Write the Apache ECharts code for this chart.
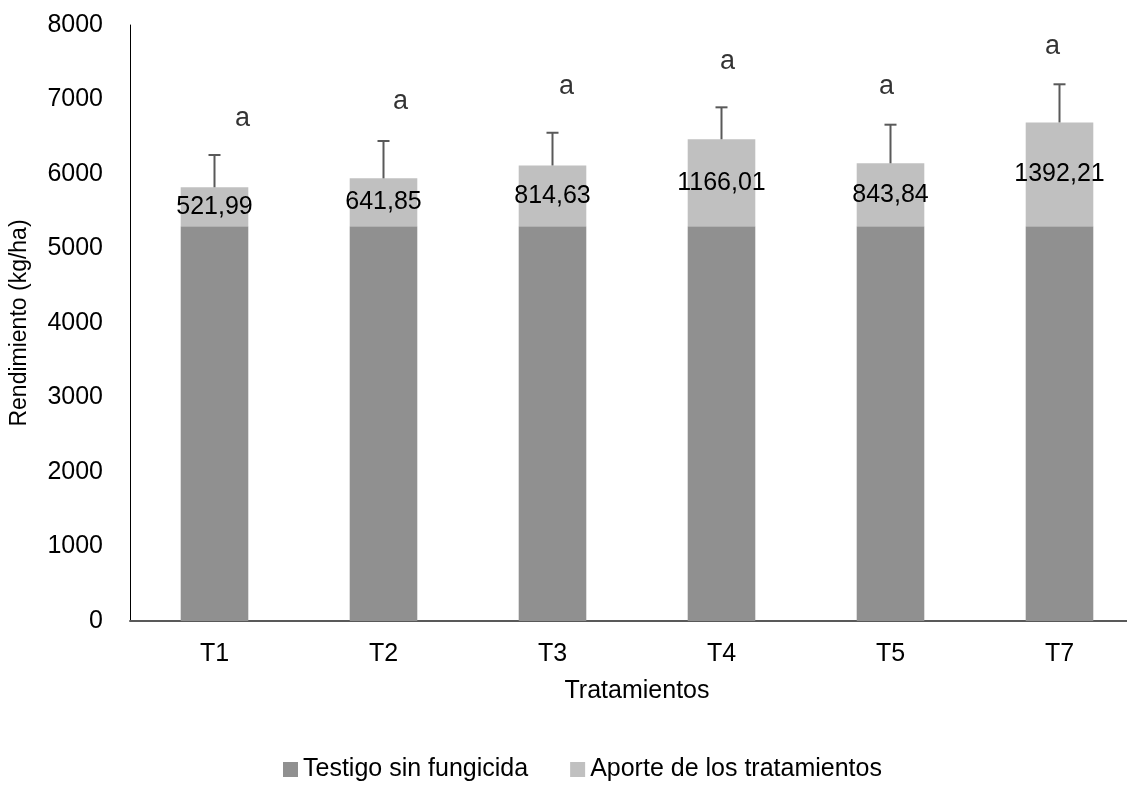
<!DOCTYPE html>
<html>
<head>
    <meta charset="utf-8">
    <title>Rendimiento</title>
    <script src="https://cdn.jsdelivr.net/npm/echarts@6/dist/echarts.min.js"></script>
    <style type="text/css">
        * { margin: 0; padding: 0; }
        body { background: #fff; }
    </style>
</head>
<body>
<div id="main" style="width: 1127px; height: 786px;"></div>
<script type="text/javascript">
    // datos
    var categories = ['T1', 'T2', 'T3', 'T4', 'T5', 'T7'];
    var testigo = [5300, 5300, 5300, 5300, 5300, 5300];
    var aporte = [521.99, 641.85, 814.63, 1166.01, 843.84, 1392.21];
    var errorUp = [433, 501, 439, 429, 518, 512];
    var letters = ['a', 'a', 'a', 'a', 'a', 'a'];
    var letterY = [6750, 6970, 7170, 7510, 7170, 7710];

    var FONT = '"Liberation Sans Narrow", "Liberation Sans", Arial, sans-serif';
    // desplazamiento horizontal de las letras (cuadros de texto de Excel)
    var letterShift = [28, 17, 14, 6, -4, -7];

    var myChart = echarts.init(document.getElementById('main'));

    var errData = categories.map(function (c, i) {
        var total = testigo[i] + aporte[i];
        return [i, total, total + errorUp[i]];
    });

    var letterData = categories.map(function (c, i) {
        return {
            value: [i, letterY[i]],
            label: { offset: [letterShift[i], 0] }
        };
    });

    var option = {
        animation: false,
        textStyle: { fontFamily: FONT },
        grid: {
            left: 130, right: -17, top: 25, bottom: 165,
            containLabel: false,
            outerBoundsMode: 'none'
        },
        legend: {
            data: ['Testigo sin fungicida', 'Aporte de los tratamientos'],
            left: 278,
            top: 752,
            itemWidth: 15,
            itemHeight: 15,
            itemGap: 42,
            icon: 'rect',
            textStyle: { fontFamily: FONT, fontSize: 25, color: '#000' }
        },
        xAxis: {
            type: 'category',
            data: categories,
            name: 'Tratamientos',
            nameLocation: 'middle',
            nameGap: 58,
            nameTextStyle: { fontFamily: FONT, fontSize: 25, color: '#000' },
            axisLine: { lineStyle: { color: '#595959', width: 2 } },
            axisTick: { show: false },
            axisLabel: { fontFamily: FONT, fontSize: 25, color: '#000', margin: 21 }
        },
        yAxis: {
            type: 'value',
            min: 0,
            max: 8000,
            interval: 1000,
            name: 'Rendimiento (kg/ha)',
            nameLocation: 'middle',
            nameGap: 99,
            nameTextStyle: { fontFamily: FONT, fontSize: 23, color: '#000' },
            axisLine: { show: true, lineStyle: { color: '#000', width: 1 } },
            axisTick: { show: false },
            splitLine: { show: false },
            axisLabel: {
                fontFamily: FONT, fontSize: 25, color: '#000', margin: 27,
                formatter: function (v) { return String(v); }
            }
        },
        series: [
            {
                name: 'Testigo sin fungicida',
                type: 'bar',
                stack: 'total',
                barWidth: '40%',
                itemStyle: { color: '#909090' },
                data: testigo
            },
            {
                name: 'Aporte de los tratamientos',
                type: 'bar',
                stack: 'total',
                barWidth: '40%',
                itemStyle: { color: '#c0c0c0' },
                label: {
                    show: true,
                    position: 'inside',
                    fontFamily: FONT,
                    fontSize: 25,
                    color: '#000',
                    formatter: function (p) {
                        return p.value.toFixed(2).replace('.', ',');
                    }
                },
                data: aporte
            },
            {
                name: 'error',
                type: 'custom',
                z: 5,
                renderItem: function (params, api) {
                    var x = api.value(0);
                    var lo = api.coord([x, api.value(1)]);
                    var hi = api.coord([x, api.value(2)]);
                    var st = { stroke: '#595959', lineWidth: 2 };
                    return {
                        type: 'group',
                        children: [
                            { type: 'line', shape: { x1: lo[0], y1: lo[1], x2: hi[0], y2: hi[1] }, style: st },
                            { type: 'line', shape: { x1: hi[0] - 6, y1: hi[1], x2: hi[0] + 6, y2: hi[1] }, style: st }
                        ]
                    };
                },
                encode: { x: 0, y: [1, 2] },
                data: errData
            },
            {
                name: 'letras',
                type: 'scatter',
                symbolSize: 0,
                label: {
                    show: true,
                    position: 'inside',
                    fontFamily: FONT,
                    fontSize: 27,
                    color: '#000',
                    formatter: function (p) { return letters[p.dataIndex]; }
                },
                data: letterData
            }
        ]
    };

    myChart.setOption(option);
</script>
</body>
</html>
